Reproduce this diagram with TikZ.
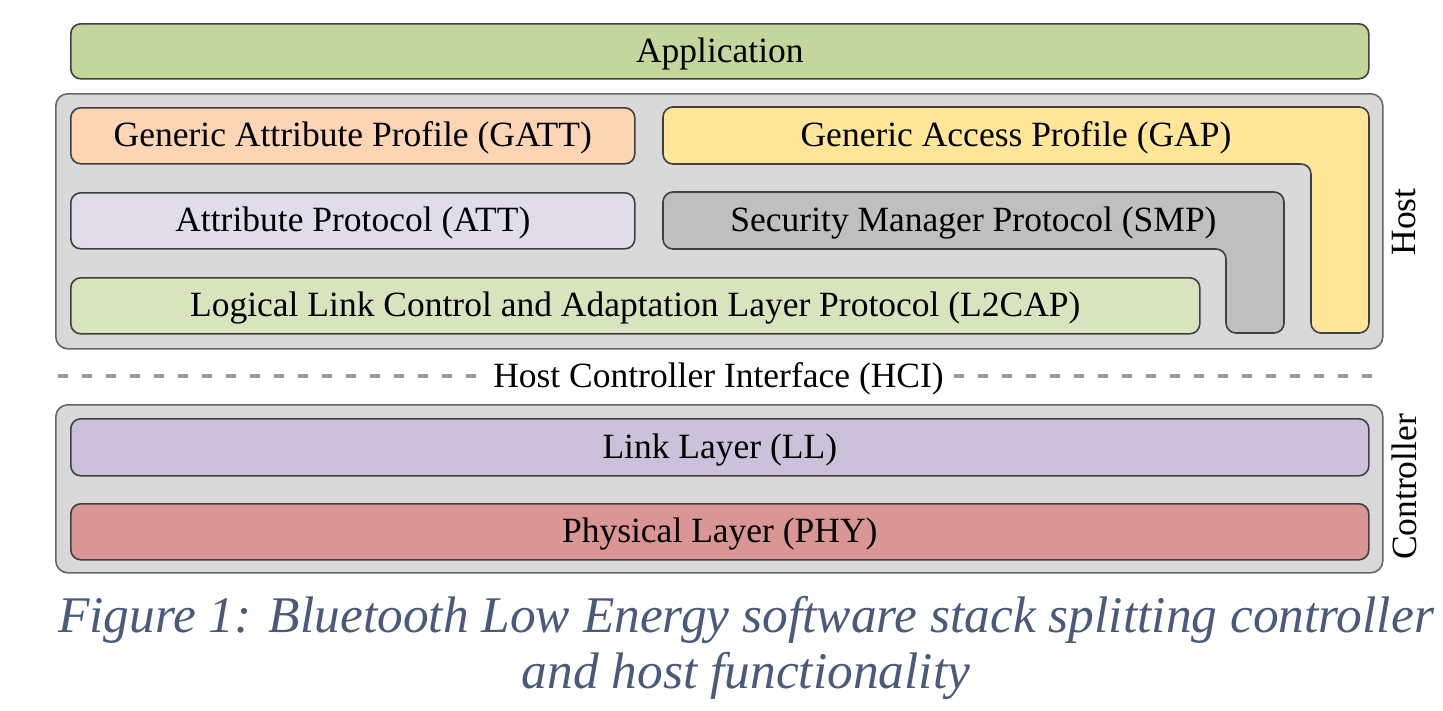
\documentclass[tikz,border=0pt]{standalone}
\usepackage{fontspec}
\setmainfont{Liberation Serif}
\definecolor{appc}{HTML}{C3D69B}
\definecolor{gattc}{HTML}{FCD5B5}
\definecolor{gapc}{HTML}{FFE699}
\definecolor{attc}{HTML}{E0DCEA}
\definecolor{smpc}{HTML}{BFBFBF}
\definecolor{ltwoc}{HTML}{D7E4BD}
\definecolor{llc}{HTML}{CCC1DA}
\definecolor{phyc}{HTML}{D99694}
\definecolor{outerc}{HTML}{D9D9D9}
\definecolor{borderc}{HTML}{404040}
\definecolor{dashc}{HTML}{9A9A9A}
\definecolor{capc}{HTML}{4A5A7A}
\newcommand{\labfont}{\fontsize{35.5}{40}\selectfont}
\newcommand{\capfontsize}{\fontsize{51.4}{56}\selectfont\itshape}
\begin{document}
\begin{tikzpicture}[x=1pt,y=-1pt,
  layerbox/.style={draw=borderc, line width=1.6pt, rounded corners=10pt, inner sep=0pt, anchor=north west, font=\labfont, text height=29pt, text depth=7pt},
  groupbox/.style={draw=borderc!80, line width=1.6pt, rounded corners=12pt, fill=outerc, inner sep=0pt, anchor=north west},
  lshape/.style={draw=borderc, line width=1.6pt, rounded corners=10pt},
  labtext/.style={font=\labfont, inner sep=0pt, text height=29pt, text depth=7pt},
  sidelabel/.style={font=\labfont, rotate=90, inner sep=0pt},
  hcidash/.style={draw=dashc, line width=3.2pt, dash pattern=on 10pt off 14pt},
  captext/.style={font=\capfontsize, text=capc, inner sep=0pt, anchor=base}
]
\useasboundingbox (0,0) rectangle (1443,710);

% Application
\node[layerbox, fill=appc, minimum width=1298pt, minimum height=55pt] (app) at (70,23) {Application};

% Host group
\node[groupbox, minimum width=1327pt, minimum height=255pt] (host) at (55,93) {};
\node[layerbox, fill=gattc, minimum width=564pt, minimum height=56pt] (gatt) at (70,107) {Generic Attribute Profile (GATT)};
\node[layerbox, fill=attc, minimum width=564pt, minimum height=56pt] (att) at (70,192) {Attribute Protocol (ATT)};
\node[layerbox, fill=ltwoc, minimum width=1129pt, minimum height=56pt] (ltwo) at (70,277) {Logical Link Control and Adaptation Layer Protocol (L2CAP)};

\draw[lshape, fill=gapc] (663,107) -- (1369,107) -- (1369,333) -- (1311,333) -- (1311,164) -- (663,164) -- cycle;
\node[labtext] (gap) at (1016,135.5) {Generic Access Profile (GAP)};
\draw[lshape, fill=smpc] (663,192) -- (1284,192) -- (1284,333) -- (1226,333) -- (1226,249) -- (663,249) -- cycle;
\node[labtext] (smp) at (973.5,220.5) {Security Manager Protocol (SMP)};

\node[sidelabel] (hostlab) at (1404,222) {Host};

% HCI
\node[labtext, fill=white, inner xsep=10pt] (hci) at (718.5,376) {Host Controller Interface (HCI)};
\coordinate (hciL) at (58,376);
\coordinate (hciR) at (1380,376);
\draw[hcidash] (hciL) -- (hci.west);
\draw[hcidash] (hci.east) -- (hciR);

% Controller group
\node[groupbox, minimum width=1327pt, minimum height=168pt] (ctrl) at (55,404) {};
\node[layerbox, fill=llc, minimum width=1298pt, minimum height=57pt] (ll) at (70,418) {Link Layer (LL)};
\node[layerbox, fill=phyc, minimum width=1298pt, minimum height=56pt] (phy) at (70,503) {Physical Layer (PHY)};
\node[sidelabel] (ctrllab) at (1404,487) {Controller};

% Caption
\node[captext] (cap1) at (746,632) {Figure 1: Bluetooth Low Energy software stack splitting controller};
\node[captext] (cap2) at (746,688) {and host functionality};
\end{tikzpicture}
\end{document}
